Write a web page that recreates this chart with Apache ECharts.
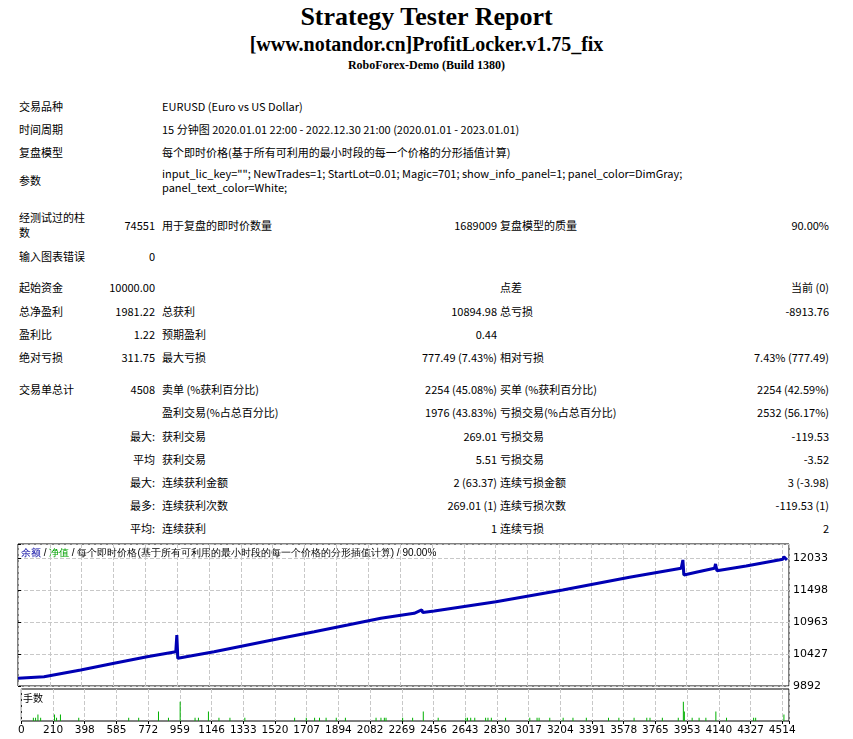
<!DOCTYPE html>
<html><head><meta charset="utf-8">
<script src="https://cdn.jsdelivr.net/npm/echarts@6/dist/echarts.min.js"></script>
<style>
body{margin:0;background:#fff;width:853px;height:739px;overflow:hidden;position:relative;font-family:"Noto Sans CJK SC","DejaVu Sans",sans-serif;font-size:11px;color:#000}
.t{position:absolute;white-space:nowrap;line-height:14px}
.r{text-align:right}
h1,h2,h3{position:absolute;left:0;width:853px;text-align:center;margin:0;font-family:"Liberation Serif",serif;font-weight:bold}
#chart{position:absolute;left:15px;top:543px;width:838px;height:196px}
</style></head><body>
<h1 style="top:2px;font-size:26px">Strategy Tester Report</h1>
<h2 style="top:33px;font-size:20px">[www.notandor.cn]ProfitLocker.v1.75_fix</h2>
<h3 style="top:58px;font-size:12px">RoboForex-Demo (Build 1380)</h3>
<div id="tbl"></div>
<div id="chart"></div>
<script>
// equity curve: [trade #, balance]
var balance = [
 [0,10021],[153,10048],[369,10160],[565,10272],[759,10382],[928,10466],[934,10745],[940,10355],
 [1153,10466],[1350,10578],[1546,10690],[1742,10800],[1938,10912],[2134,11025],[2330,11108],
 [2374,11165],[2380,11120],[2448,11147],[2811,11302],[3203,11498],[3596,11711],[3900,11861],
 [3910,12000],[3916,11749],[3988,11794],[4096,11861],[4102,11933],[4110,11821],[4282,11899],
 [4498,12012],[4504,12055],[4522,12000]
];
// equity dips below balance (separate short drops)
var equityDips = [
 [[934,10466],[938,10350]],
 [[3910,11861],[3914,11740]]
];
// lots per trade: [trade #, lots]
var lots = [
 [71,0.01],[84,0.01],[98,0.02],[114,0.01],[196,0.02],[208,0.01],[231,0.02],[339,0.01],[634,0.01],
 [693,0.01],[810,0.03],[869,0.01],[938,0.06],[1026,0.01],[1046,0.01],[1105,0.03],[1167,0.01],
 [1232,0.01],[1320,0.01],[1614,0.01],[1683,0.01],[1732,0.01],[1761,0.01],[1800,0.01],[1860,0.01],
 [1914,0.01],[2095,0.01],[2124,0.01],[2144,0.01],[2154,0.01],[2252,0.01],[2311,0.01],[2374,0.03],
 [2462,0.01],[2625,0.01],[2635,0.01],[2654,0.01],[2678,0.01],[2742,0.01],[2756,0.01],[2776,0.01],
 [2860,0.01],[3003,0.01],[3046,0.01],[3058,0.01],[3121,0.01],[3200,0.01],[3258,0.01],[3337,0.01],
 [3468,0.01],[3529,0.01],[3619,0.01],[3694,0.01],[3713,0.01],[3786,0.01],[3880,0.01],[3910,0.06],
 [3916,0.03],[3962,0.01],[4003,0.01],[4043,0.01],[4102,0.03],[4165,0.01],[4325,0.01],[4337,0.01],
 [4504,0.02]
];
var xTickLabels = ['0','210','398','585','772','959','1146','1333','1520','1707','1894','2082','2269',
 '2456','2643','2830','3017','3204','3391','3578','3765','3953','4140','4327','4514'];
var yTickLabels = ['9892','10427','10963','11498','12033'];

// report rows: [top, label, value, label2, value2, label3, value3]
var rows = [
 [99,'交易品种','','EURUSD (Euro vs US Dollar)'],
 [122,'时间周期','','15 分钟图 2020.01.01 22:00 - 2022.12.30 21:00 (2020.01.01 - 2023.01.01)'],
 [145,'复盘模型','','每个即时价格(基于所有可利用的最小时段的每一个价格的分形插值计算)'],
 [166,'','','input_lic_key=""; NewTrades=1; StartLot=0.01; Magic=701; show_info_panel=1; panel_color=DimGray;'],
 [180,'','','panel_text_color=White;'],
 [173,'参数'],
 [210,'经测试过的柱'],[225,'数'],
 [218,'','74551','用于复盘的即时价数量','1689009','复盘模型的质量','90.00%'],
 [249,'输入图表错误','0'],
 [280,'起始资金','10000.00','','','点差','当前 (0)'],
 [304,'总净盈利','1981.22','总获利','10894.98','总亏损','-8913.76'],
 [327,'盈利比','1.22','预期盈利','0.44'],
 [350,'绝对亏损','311.75','最大亏损','777.49 (7.43%)','相对亏损','7.43% (777.49)'],
 [382,'交易单总计','4508','卖单 (%获利百分比)','2254 (45.08%)','买单 (%获利百分比)','2254 (42.59%)'],
 [405,'','','盈利交易(%占总百分比)','1976 (43.83%)','亏损交易(%占总百分比)','2532 (56.17%)'],
 [429,'','最大:','获利交易','269.01','亏损交易','-119.53'],
 [452,'','平均','获利交易','5.51','亏损交易','-3.52'],
 [475,'','最大:','连续获利金额','2 (63.37)','连续亏损金额','3 (-3.98)'],
 [498,'','最多:','连续获利次数','269.01 (1)','连续亏损次数','-119.53 (1)'],
 [521,'','平均:','连续获利','1','连续亏损','2']
];
var html = '';
rows.forEach(function(r){
  var y = r[0];
  if (r[1]) html += '<div class="t" style="left:19px;top:'+y+'px">'+r[1]+'</div>';
  if (r[2]) html += '<div class="t r" style="left:60px;width:95px;top:'+y+'px">'+r[2]+'</div>';
  if (r[3]) html += '<div class="t" style="left:162px;top:'+y+'px">'+r[3].replace(/"/g,'&quot;')+'</div>';
  if (r[4]) html += '<div class="t r" style="left:360px;width:137px;top:'+y+'px">'+r[4]+'</div>';
  if (r[5]) html += '<div class="t" style="left:500px;top:'+y+'px">'+r[5]+'</div>';
  if (r[6]) html += '<div class="t r" style="left:660px;width:169px;top:'+y+'px">'+r[6]+'</div>';
});
document.getElementById('tbl').innerHTML = html;

var base = +yTickLabels[0];
var step = 187.25, ystep = 535.25;
function tickLabel(list, v, s){
  var k = v / s;
  return Math.abs(k - Math.round(k)) < 0.01 ? (list[Math.round(k)] || '') : '';
}
var chart = echarts.init(document.getElementById('chart'));
var txt = {color:'#000',fontSize:11,fontFamily:'DejaVu Sans'};
var series = [];
equityDips.forEach(function(seg){
  series.push({type:'line',xAxisIndex:0,yAxisIndex:0,symbol:'none',lineStyle:{color:'#00a000',width:1.5},z:1,
    data:seg.map(function(p){return [p[0],p[1]-base];})});
});
series.push({type:'line',xAxisIndex:0,yAxisIndex:0,symbol:'none',lineStyle:{color:'#0000b4',width:3},z:2,
  data:balance.map(function(p){return [p[0],p[1]-base];})});
series.push({type:'bar',xAxisIndex:1,yAxisIndex:1,barWidth:1,itemStyle:{color:'#00b000'},data:lots});
chart.setOption({
  animation:false,
  grid:[
    {left:3,right:64,top:1,height:142,show:true,borderColor:'#000',borderWidth:1},
    {left:3,right:64,top:146,height:32,show:true,borderColor:'#000',borderWidth:1}
  ],
  xAxis:[
    {gridIndex:0,type:'value',min:0,max:4534,interval:step,axisLabel:{show:false},axisTick:{show:false},axisLine:{show:false},
     splitLine:{lineStyle:{type:'dashed',color:'#c8c8c8'}}},
    {gridIndex:1,type:'value',min:0,max:4534,interval:step,axisLine:{show:false},
     axisTick:{show:true,length:3,lineStyle:{color:'#000'}},
     axisLabel:Object.assign({margin:4,formatter:function(v){return tickLabel(xTickLabels,v,step);}},txt,{fontSize:10.5}),
     splitLine:{lineStyle:{type:'dashed',color:'#c8c8c8'}}}
  ],
  yAxis:[
    {gridIndex:0,type:'value',position:'right',min:0,max:2375,interval:ystep,
     axisLine:{show:false},axisTick:{show:true,length:3,lineStyle:{color:'#000'}},
     axisLabel:Object.assign({margin:4,formatter:function(v){return tickLabel(yTickLabels,v,ystep);}},txt),
     splitLine:{lineStyle:{type:'dashed',color:'#c8c8c8'}}},
    {gridIndex:1,type:'value',min:0,max:0.1,axisLabel:{show:false},axisTick:{show:false},axisLine:{show:false},splitLine:{show:false}}
  ],
  graphic:[
    {type:'text',left:6,top:4,style:{rich:{b:{fill:'#0000a0',fontSize:10},g:{fill:'#00a000',fontSize:10},k:{fill:'#000',fontSize:10}},
      text:'{b|余额} {k|/} {g|净值} {k|/ 每个即时价格(基于所有可利用的最小时段的每一个价格的分形插值计算) / 90.00%}',
      fontFamily:'Noto Sans CJK SC'}},
    {type:'text',left:8,top:150,style:{text:'手数',fill:'#000',fontSize:10,fontFamily:'Noto Sans CJK SC'}}
  ],
  series:series
});
</script>
</body></html>
